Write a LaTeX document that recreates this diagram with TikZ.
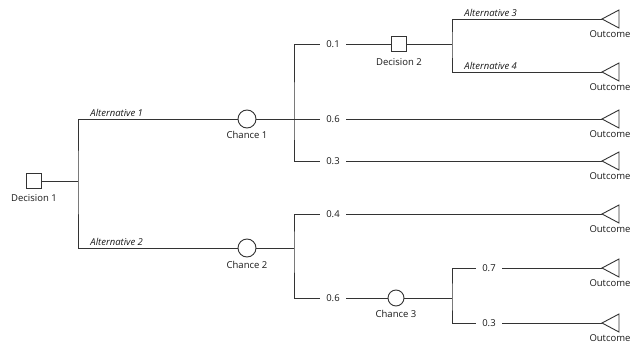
\documentclass[tikz,border=0pt]{standalone}
\usepackage{fontspec}
\setmainfont{Open Sans}
\usetikzlibrary{positioning}

\begin{document}
\begin{tikzpicture}[x=1pt, y=-1pt, line width=0.9pt, color=black!80,
  txt/.style={font=\fontsize{9.5}{11}\selectfont, text=black!90, inner sep=1pt},
  alt/.style={font=\fontsize{9.5}{11}\selectfont\itshape, text=black!90, inner sep=1pt, anchor=south west},
  prob/.style={txt, inner xsep=6pt},
  dec/.style={draw, rectangle, minimum size=15pt, inner sep=0pt},
  chc/.style={draw, circle, minimum size=18pt, inner sep=0pt}]
\useasboundingbox (0,0) rectangle (634,345);

% Nodes
\node[dec] (d1) at (33.5,181) {};
\node[chc] (c1) at (247,119) {};
\node[chc] (c2) at (247,248) {};
\node[dec] (d2) at (398.5,44) {};
\node[chc, minimum size=16pt] (c3) at (396,298) {};
\coordinate (j1) at (78,181);
\coordinate (j2) at (294,119);
\coordinate (j3) at (452,44);
\coordinate (j4) at (294,248);
\coordinate (j5) at (452,298);

% Probabilities
\node[prob] (p1) at (333,44) {0.1};
\node[prob] (p2) at (333,119) {0.6};
\node[prob] (p3) at (333,161) {0.3};
\node[prob] (p4) at (333,214) {0.4};
\node[prob] (p5) at (333,298) {0.6};
\node[prob] (p6) at (489,268) {0.7};
\node[prob] (p7) at (489,323) {0.3};

% Outcomes
\foreach \y [count=\i] in {19,72,119,161,214,268,323} {
  \coordinate (out\i) at (602,\y);
  \draw (out\i) -- ++(17,-9) -- ++(0,18) -- cycle;
  \node[txt] (olab\i) at (610,\y+15) {Outcome};
}

% Lines
\draw (d1) -- (j1);
\draw (c1) -| (j1) |- (c2);
\draw (c1) -- (j2);
\draw (p1) -| (j2) |- (p3);
\draw (j2) -- (p2);
\draw (p1) -- (d2);
\draw (d2) -- (j3);
\draw (out1) -| (j3) |- (out2);
\draw (p2) -- (out3);
\draw (p3) -- (out4);
\draw (c2) -- (j4);
\draw (p4) -| (j4) |- (p5);
\draw (p4) -- (out5);
\draw (p5) -- (c3);
\draw (c3) -- (j5);
\draw (p6) -| (j5) |- (p7);
\draw (p6) -- (out6);
\draw (p7) -- (out7);

% Labels
\node[txt] (l1) at (34,198) {Decision 1};
\node[txt] (l2) at (247,135) {Chance 1};
\node[txt] (l3) at (247,265) {Chance 2};
\node[txt] (l4) at (399,62) {Decision 2};
\node[txt] (l5) at (396,314) {Chance 3};
\node[alt] (a1) at (89,118) {Alternative 1};
\node[alt] (a2) at (89,247) {Alternative 2};
\node[alt] (a3) at (463,18) {Alternative 3};
\node[alt] (a4) at (463,71) {Alternative 4};
\end{tikzpicture}
\end{document}
